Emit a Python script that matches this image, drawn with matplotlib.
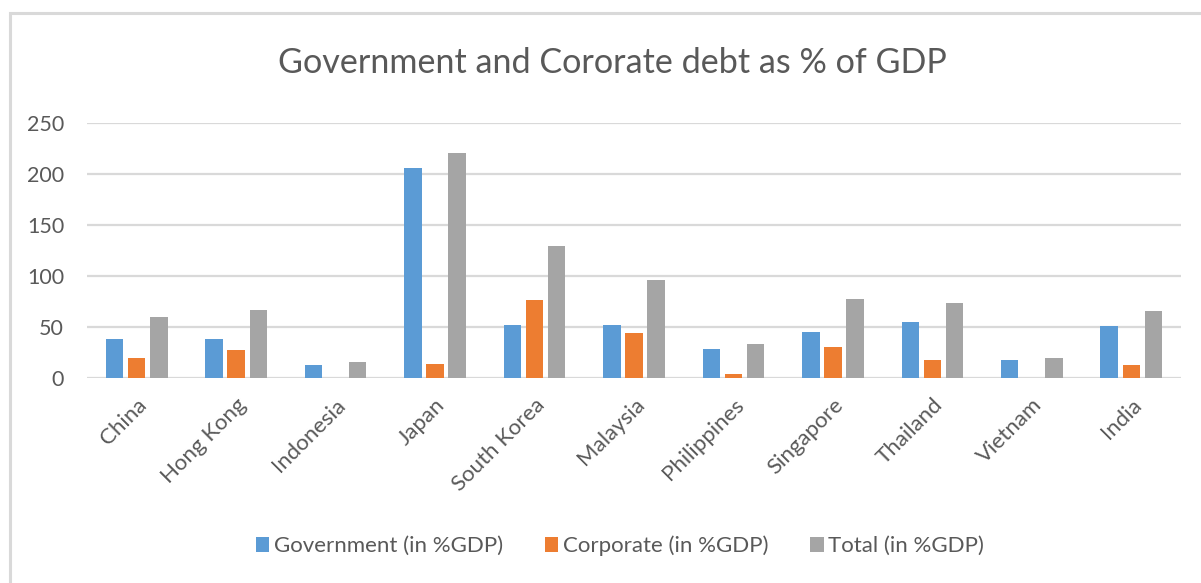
import matplotlib
matplotlib.use("Agg")
import matplotlib.pyplot as plt
import numpy as np
from matplotlib.patches import Rectangle

plt.rcParams['font.family'] = ['Lato', 'DejaVu Sans']

countries = ["China", "Hong Kong", "Indonesia", "Japan", "South Korea", "Malaysia",
             "Philippines", "Singapore", "Thailand", "Vietnam", "India"]
government = [38, 38, 13, 206, 52, 52, 28, 45, 55, 18, 51]
corporate = [20, 27, 0, 14, 76, 44, 4, 30, 18, 0, 13]
total = [60, 67, 16, 221, 129, 96, 33, 77, 74, 20, 66]
series_names = ["Government (in %GDP)", "Corporate (in %GDP)", "Total (in %GDP)"]
colors = ["#5b9bd5", "#ed7d31", "#a5a5a5"]
yticks = [0, 50, 100, 150, 200, 250]

W, H = 1201, 583
fig = plt.figure(figsize=(W / 100, H / 100), dpi=100)
fig.patch.set_facecolor("white")

# chart frame
fig.patches.append(Rectangle((10 / W, -0.1), 1.2, (H - 13) / H + 0.1,
                             transform=fig.transFigure, fill=False,
                             edgecolor="#d9d9d9", linewidth=2.2))

ax = fig.add_axes([87 / W, (H - 378) / H, (1181 - 87) / W, (378 - 123) / H])
x = np.arange(len(countries))
bw = 0.175
step = 0.222
for i, (vals, name, c) in enumerate(zip([government, corporate, total], series_names, colors)):
    ax.bar(x + (i - 1) * step, vals, width=bw, color=c, label=name, zorder=3)

ax.set_xlim(-0.5, len(countries) - 0.5)
ax.set_ylim(0, 250)
ax.set_yticks(yticks)
ax.set_yticklabels([str(v) for v in yticks], fontsize=15.5, color="#595959")
ax.yaxis.grid(True, color="#d9d9d9", linewidth=1.6, zorder=0)
ax.set_axisbelow(True)
for s in ax.spines.values():
    s.set_visible(False)
ax.tick_params(axis="both", length=0)
ax.tick_params(axis="y", pad=16.5)
ax.set_xticks(x)
ax.set_xticklabels(countries, rotation=45, ha="right", va="top", rotation_mode="anchor",
                   fontsize=16, color="#595959")
ax.tick_params(axis="x", pad=12)

fig.text(612 / W, 1 - 63 / H, "Government and Cororate debt as % of GDP",
         ha="center", va="center", fontsize=24.6, color="#595959")

handles, labels = ax.get_legend_handles_labels()
fig.legend(handles, labels, loc="center", bbox_to_anchor=(620 / W, 1 - 546 / H), ncol=3,
           frameon=False, fontsize=16, labelcolor="#595959", handlelength=0.6,
           handleheight=0.6, handletextpad=0.2, columnspacing=1.9)

fig.savefig("out.png", dpi=100, facecolor="white")
